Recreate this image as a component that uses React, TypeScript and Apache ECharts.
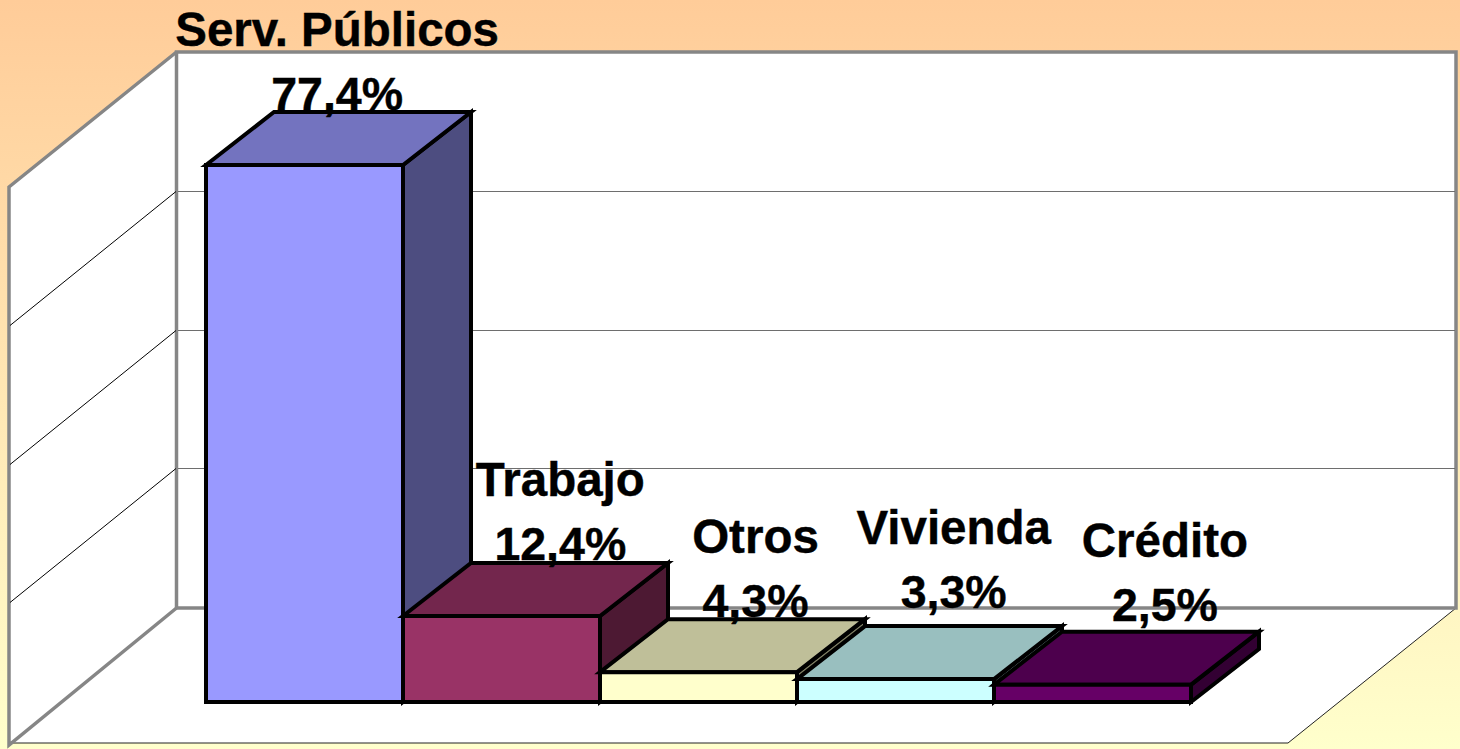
import React, { useEffect, useRef } from "react";
import * as echarts from "echarts";

const categories = ["Serv. Públicos", "Trabajo", "Otros", "Vivienda", "Crédito"];
const values = [77.4, 12.4, 4.3, 3.3, 2.5];
const gridTicks = [20, 40, 60];

const frontColors = ["#9999FF", "#993366", "#FFFFCC", "#CCFFFF", "#660066"];
const topColors = ["#7373BF", "#73264D", "#BFBF99", "#99BFBF", "#4D004D"];
const sideColors = ["#4D4D80", "#4D1933", "#808066", "#668080", "#330033"];

const labelShiftX = [32.6, 58.8, 57, 58.2, 72.4];
const labelShiftY = [-48, -48, -48, -64, -56];

const DEPTH_X = 68;
const DEPTH_Y = -53;
const FONT = '"Liberation Sans", Arial, sans-serif';
const WALL = "#868686";

const fmt = (v: number) => v.toFixed(1).replace(".", ",") + "%";

export default function App() {
  const ref = useRef<HTMLDivElement>(null);
  useEffect(() => {
    document.body.style.margin = "0";
    const chart = echarts.init(ref.current!, null, { renderer: "svg" });
    chart.setOption({
      animation: false,
      backgroundColor: {
        type: "linear", x: 0, y: 0, x2: 0, y2: 1,
        colorStops: [
          { offset: 0, color: "#FFCC99" },
          { offset: 1, color: "#FFFFCC" },
        ],
      },
      grid: { left: 206, right: 269, top: 147, bottom: 47 },
      xAxis: { type: "category", data: categories, show: false },
      yAxis: { type: "value", min: 0, max: 80, interval: 20, show: false },
      graphic: [
        { type: "polygon", z: 0, shape: { points: [[9, 187], [176.5, 52], [1456, 52], [1456, 608], [1288, 743], [9, 743]] }, style: { fill: "#FFFFFF" } },
        { type: "line", z: 1, shape: { x1: 9, y1: 743, x2: 1288, y2: 743 }, style: { stroke: "#222222", lineWidth: 1 } },
        { type: "line", z: 1, shape: { x1: 1288, y1: 743, x2: 1456, y2: 608 }, style: { stroke: "#222222", lineWidth: 1 } },
        { type: "polyline", z: 1, shape: { points: [[176.5, 52], [9, 187], [9, 745], [176.5, 608]] }, style: { fill: "none", stroke: WALL, lineWidth: 3.5 } },
        { type: "rect", z: 1, shape: { x: 176.5, y: 52, width: 1279.5, height: 556 }, style: { fill: "none", stroke: WALL, lineWidth: 3.5 } },
      ],
      series: [
        {
          type: "custom",
          coordinateSystem: "cartesian2d",
          z: 2,
          data: gridTicks.map((v) => [0, v]),
          silent: true,
          renderItem: (_p: any, api: any) => {
            const y = Math.round(api.coord([0, api.value(1)])[1] - 94) - 0.5;
            return {
              type: "group",
              children: [
                { type: "line", shape: { x1: 178, y1: y, x2: 1455, y2: y }, style: { stroke: "#6E6E6E", lineWidth: 1 } },
                { type: "line", shape: { x1: 176, y1: y, x2: 10, y2: y + 134 }, style: { stroke: "#000000", lineWidth: 1 } },
              ],
            };
          },
        },
        {
          type: "custom",
          coordinateSystem: "cartesian2d",
          z: 3,
          data: values.map((v, i) => [i, v]),
          silent: true,
          renderItem: (p: any, api: any) => {
            const i = p.dataIndex;
            const c = api.coord([api.value(0), api.value(1)]);
            const b = api.coord([api.value(0), 0]);
            const w = api.size([1, 0])[0];
            const l = c[0] - w / 2;
            const r = c[0] + w / 2;
            const t = c[1];
            const bt = b[1];
            const line = { stroke: "#000000", lineWidth: 4, lineJoin: "miter", miterLimit: 6 };
            return {
              type: "group",
              children: [
                { type: "polygon", shape: { points: [[r, t], [r + DEPTH_X, t + DEPTH_Y], [r + DEPTH_X, bt + DEPTH_Y], [r, bt]] }, style: { fill: sideColors[i], ...line } },
                { type: "polygon", shape: { points: [[l, t], [l + DEPTH_X, t + DEPTH_Y], [r + DEPTH_X, t + DEPTH_Y], [r, t]] }, style: { fill: topColors[i], ...line } },
                { type: "polygon", shape: { points: [[l, t], [r, t], [r, bt], [l, bt]] }, style: { fill: frontColors[i], ...line } },
              ],
            };
          },
        },
        {
          type: "custom",
          coordinateSystem: "cartesian2d",
          z: 4,
          data: values.map((v, i) => [i, v]),
          silent: true,
          renderItem: (p: any, api: any) => {
            const i = p.dataIndex;
            const c = api.coord([api.value(0), api.value(1)]);
            const x = c[0] + labelShiftX[i];
            const y = c[1] + labelShiftY[i];
            const common = {
              fontFamily: FONT,
              fontWeight: "bold",
              align: "center",
              verticalAlign: "bottom",
              fill: "#000000",
              stroke: "#000000",
              lineWidth: 0.4,
            };
            return {
              type: "group",
              children: [
                { type: "text", x, y: y - 64, style: { ...common, text: categories[i], fontSize: 47.5 } },
                { type: "text", x, y, style: { ...common, text: fmt(values[i]), fontSize: 46.5 } },
              ],
            };
          },
        },
      ],
    });
    return () => chart.dispose();
  }, []);
  return <div ref={ref} style={{ width: 1460, height: 749 }} />;
}
